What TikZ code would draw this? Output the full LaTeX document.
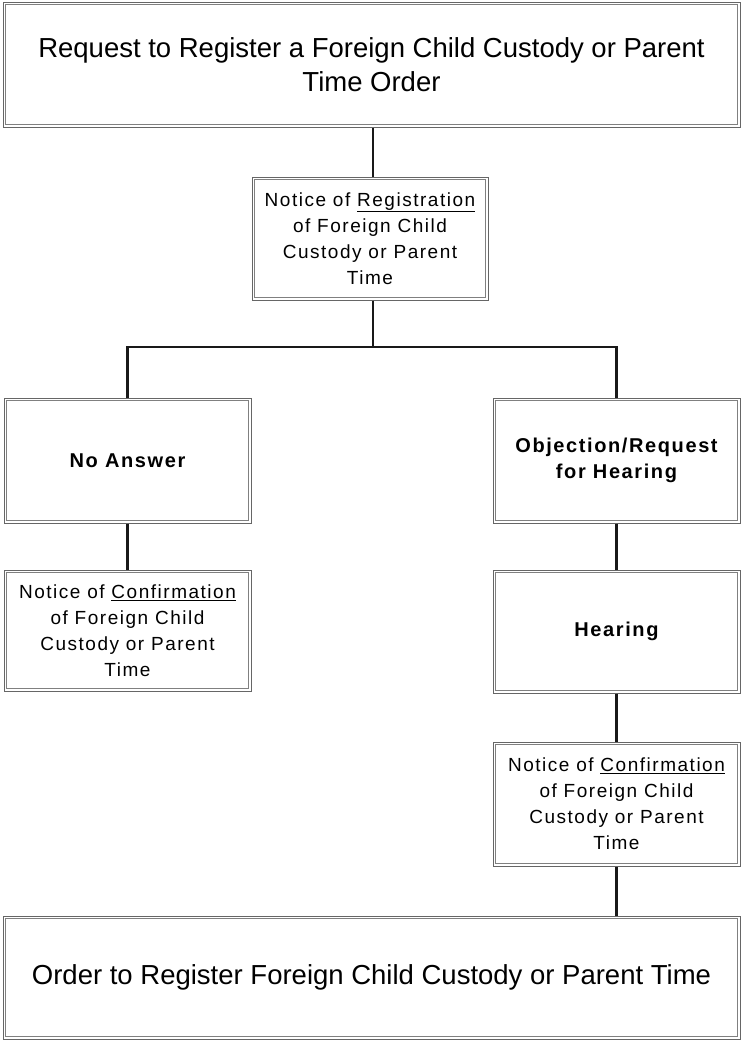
\documentclass[tikz,border=0pt]{standalone}
\usepackage{fontspec}
\setmainfont{Liberation Sans}
\newfontfamily\boxfont[LetterSpace=8]{Liberation Sans}
\begin{document}
\begin{tikzpicture}[x=1pt,y=-1pt,
  box/.style={draw=black!60, line width=1pt,
    align=center, inner sep=0pt, minimum width=#1},
  box/.default=247pt,
  innerline/.style={draw=black!50, line width=0.9pt},
  conn/.style={line width=2.6pt, black!90},
  bigtext/.style={font=\fontsize{27.5}{34}\selectfont},
  smalltext/.style={font=\boxfont\fontsize{19}{26}\selectfont},
  boldtext/.style={font=\boxfont\bfseries\fontsize{20}{26}\selectfont}]
\useasboundingbox (0,0) rectangle (742,1042);

\node[box=737pt, minimum height=125pt, bigtext] (top) at (371.5,64.5)
  {Request to Register a Foreign Child Custody or Parent\\Time Order};
\node[box=236pt, minimum height=123pt, smalltext] (reg) at (370,238.5)
  {Notice of \underline{Registration}\\of Foreign Child\\Custody or Parent\\Time};
\coordinate (j) at (373,347);
\node[box, minimum height=125pt, boldtext] (noans) at (127.5,460.5) {No Answer};
\node[box, minimum height=121pt, smalltext] (lconf) at (127.5,630.5)
  {Notice of \underline{Confirmation}\\of Foreign Child\\Custody or Parent\\Time};
\node[box, minimum height=125pt, boldtext] (obj) at (616.5,460.5)
  {Objection/Request\\for Hearing};
\node[box, minimum height=123pt, boldtext] (hear) at (616.5,631.5) {Hearing};
\node[box, minimum height=124pt, smalltext] (rconf) at (616.5,804)
  {Notice of \underline{Confirmation}\\of Foreign Child\\Custody or Parent\\Time};
\node[box=737pt, minimum height=123pt, bigtext] (order) at (371.5,977.5)
  {Order to Register Foreign Child Custody or Parent Time};

\foreach \n in {top,reg,noans,lconf,obj,hear,rconf,order}
  \draw[innerline] ([shift={(2.8pt,-2.8pt)}]\n.north west) rectangle
                   ([shift={(-2.8pt,2.8pt)}]\n.south east);

\draw[conn] (top.south -| j) -- (reg.north -| j);
\draw[conn] (reg.south -| j) -- (j);
\draw[conn] (noans.north) |- (j) -| (obj.north);
\draw[conn] (noans) -- (lconf);
\draw[conn] (obj) -- (hear);
\draw[conn] (hear) -- (rconf);
\draw[conn] (rconf) -- (rconf |- order.north);
\end{tikzpicture}
\end{document}
